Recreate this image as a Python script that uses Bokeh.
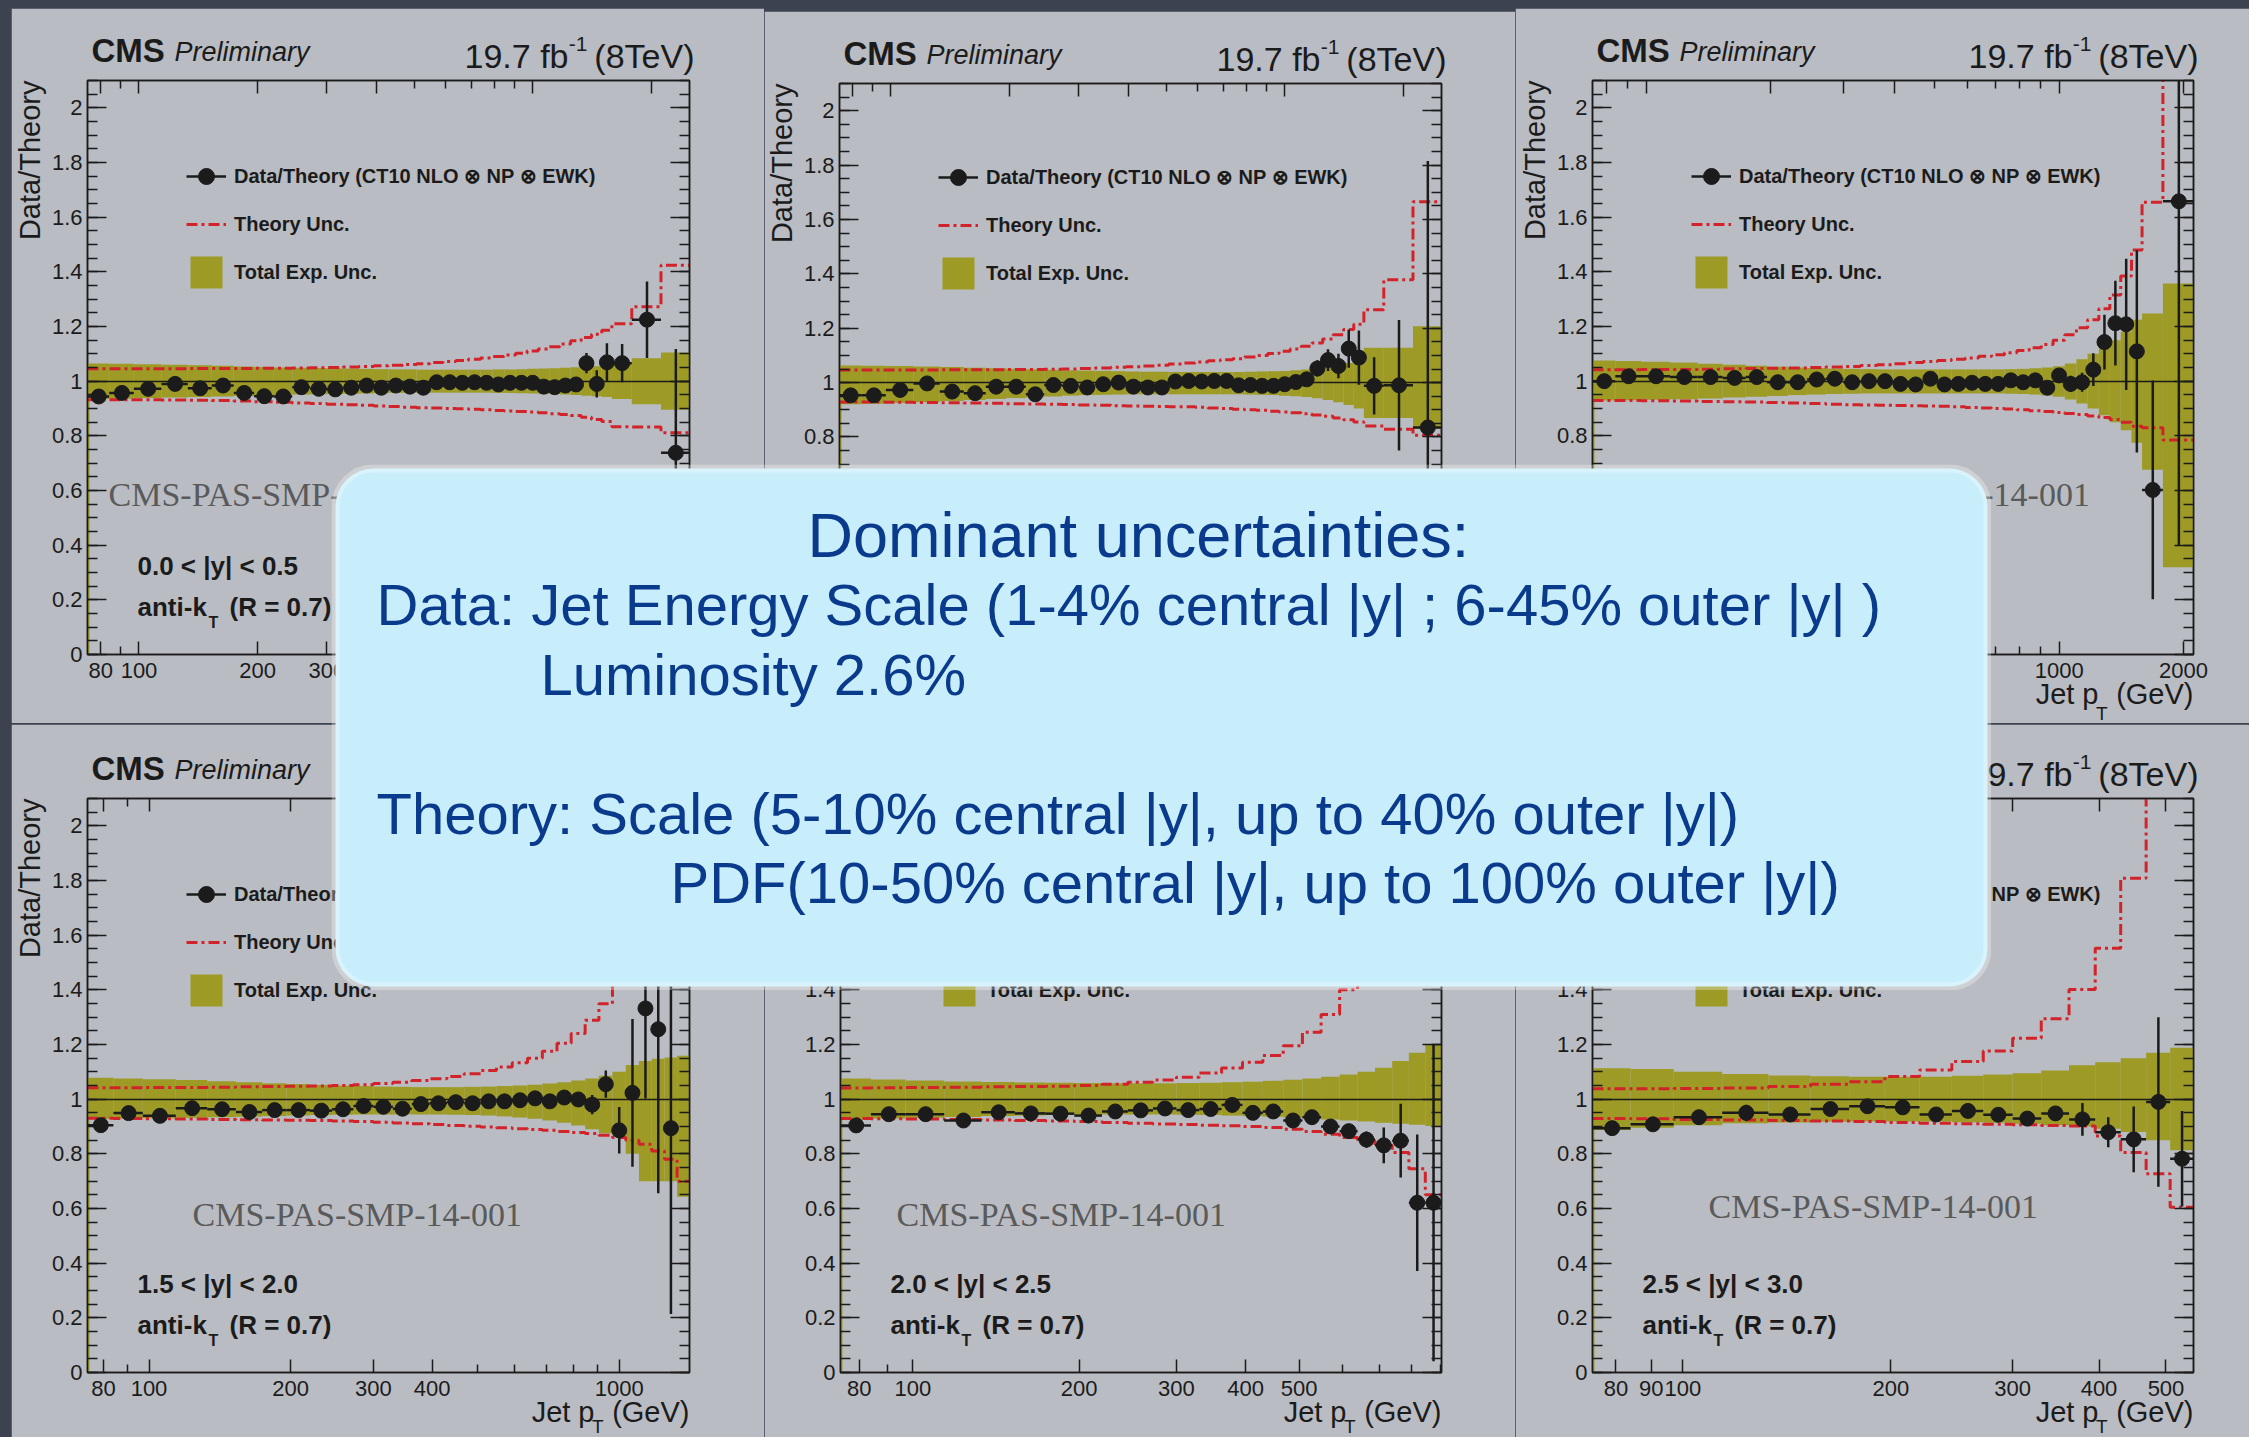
import math
from bokeh.plotting import figure
from bokeh.layouts import row, column
from bokeh.core.properties import value
from bokeh.models import (Range1d, LogAxis, LinearAxis, FixedTicker, PrintfTickFormatter,
                          ColumnDataSource, Label, Legend, LegendItem, BoxAnnotation)
from bokeh.embed import file_html
from bokeh.resources import INLINE

# ---------------------------------------------------------------- colours / fonts
SLATE = "#3c4250"
PANEL = "#b9bcc2"
INK = "#1b1b1b"
OLIVE = "#9d9b25"
RED = "#d2232a"
WATERMARK = "#5a5a5a"
BOX_FILL = "#c9eefb"
BOX_TEXT = "#0a3a8c"
SANS = "Liberation Sans"
SERIF = "Liberation Serif"
Y_MAX = 2.1
PAGE_W, PAGE_H = 2249, 1437
THEORY_DASH = "11 4 3 4"
# Label text sits this fraction of its font size below the anchor point,
# so anchors are raised by it to put the baseline where it belongs.
BASE_SHIFT = 0.375

# ---------------------------------------------------------------- jet pT bin edges (GeV)
edges_std = [74, 84, 97, 114, 133, 153, 174, 196, 220, 245, 272, 300, 330, 362, 395,
             430, 468, 507, 548, 592, 638, 686, 737, 790, 846, 905, 967, 1032, 1101,
             1172, 1248, 1327, 1410, 1497, 1588]

# ---------------------------------------------------------------- 0.0 < |y| < 0.5
edges_y0 = edges_std + [1784, 2116, 2500]
ratio_y0 = [0.944, 0.957, 0.972, 0.990, 0.974, 0.984, 0.957, 0.945, 0.944, 0.978,
            0.972, 0.970, 0.976, 0.984, 0.976, 0.984, 0.980, 0.976, 0.996, 0.996,
            0.994, 0.996, 0.994, 0.988, 0.994, 0.994, 0.994, 0.980, 0.978, 0.984,
            0.988, 1.066, 0.990, 1.069, 1.066, 1.225, 0.738]
stat_y0 = [0.003, 0.003, 0.003, 0.003, 0.003, 0.003, 0.003, 0.003, 0.003, 0.003,
           0.003, 0.003, 0.003, 0.003, 0.003, 0.004, 0.004, 0.004, 0.004, 0.005,
           0.005, 0.005, 0.006, 0.006, 0.007, 0.008, 0.009, 0.010, 0.012, 0.015,
           0.020, 0.037, 0.050, 0.070, 0.070, 0.140, 0.380]
exp_up_y0 = [0.065, 0.064, 0.062, 0.060, 0.058, 0.056, 0.054, 0.052, 0.050, 0.049,
             0.048, 0.047, 0.046, 0.045, 0.044, 0.043, 0.043, 0.042, 0.042, 0.042,
             0.042, 0.042, 0.042, 0.043, 0.043, 0.044, 0.045, 0.046, 0.047, 0.049,
             0.051, 0.053, 0.055, 0.058, 0.065, 0.084, 0.105]
exp_dn_y0 = [0.065, 0.064, 0.062, 0.060, 0.058, 0.056, 0.054, 0.052, 0.050, 0.049,
             0.048, 0.047, 0.046, 0.045, 0.044, 0.043, 0.043, 0.042, 0.042, 0.042,
             0.042, 0.042, 0.042, 0.043, 0.043, 0.044, 0.045, 0.046, 0.047, 0.049,
             0.051, 0.053, 0.055, 0.058, 0.065, 0.084, 0.105]
th_up_y0 = [0.045, 0.045, 0.045, 0.045, 0.046, 0.046, 0.046, 0.047, 0.047, 0.048,
            0.049, 0.050, 0.052, 0.054, 0.056, 0.058, 0.061, 0.064, 0.068, 0.072,
            0.076, 0.080, 0.085, 0.090, 0.096, 0.102, 0.110, 0.118, 0.126, 0.136,
            0.148, 0.160, 0.172, 0.186, 0.210, 0.272, 0.424]
th_dn_y0 = [0.068, 0.068, 0.068, 0.069, 0.070, 0.071, 0.073, 0.075, 0.077, 0.080,
            0.082, 0.084, 0.086, 0.088, 0.091, 0.093, 0.095, 0.097, 0.098, 0.100,
            0.101, 0.103, 0.105, 0.107, 0.109, 0.111, 0.113, 0.116, 0.119, 0.122,
            0.126, 0.132, 0.140, 0.148, 0.167, 0.168, 0.189]

# ---------------------------------------------------------------- 0.5 < |y| < 1.0
edges_y1 = edges_std + [1784, 2116, 2500]
ratio_y1 = [0.953, 0.953, 0.973, 0.997, 0.967, 0.961, 0.985, 0.985, 0.957, 0.991,
            0.988, 0.982, 0.994, 1.000, 0.985, 0.982, 0.982, 1.004, 1.006, 1.004,
            1.006, 1.006, 0.990, 0.991, 0.988, 0.988, 0.994, 1.002, 1.012, 1.052,
            1.083, 1.061, 1.125, 1.092, 0.988, 0.990, 0.835]
stat_y1 = [0.003, 0.003, 0.003, 0.003, 0.003, 0.003, 0.003, 0.003, 0.003, 0.003,
           0.003, 0.003, 0.004, 0.004, 0.004, 0.004, 0.004, 0.004, 0.005, 0.005,
           0.005, 0.005, 0.006, 0.007, 0.008, 0.009, 0.010, 0.012, 0.015, 0.030,
           0.040, 0.045, 0.070, 0.100, 0.105, 0.240, 0.980]
exp_up_y1 = [0.063, 0.062, 0.061, 0.059, 0.057, 0.055, 0.053, 0.051, 0.049, 0.047,
             0.045, 0.044, 0.043, 0.042, 0.041, 0.040, 0.040, 0.039, 0.039, 0.039,
             0.039, 0.039, 0.039, 0.040, 0.041, 0.042, 0.043, 0.045, 0.048, 0.052,
             0.057, 0.064, 0.072, 0.085, 0.128, 0.128, 0.207]
exp_dn_y1 = [0.080, 0.078, 0.075, 0.072, 0.068, 0.064, 0.060, 0.057, 0.054, 0.051,
             0.048, 0.046, 0.045, 0.044, 0.043, 0.043, 0.043, 0.043, 0.043, 0.043,
             0.043, 0.043, 0.043, 0.044, 0.045, 0.046, 0.048, 0.050, 0.053, 0.058,
             0.064, 0.072, 0.082, 0.095, 0.130, 0.130, 0.171]
th_up_y1 = [0.046, 0.046, 0.046, 0.046, 0.047, 0.047, 0.047, 0.048, 0.048, 0.049,
            0.050, 0.052, 0.054, 0.056, 0.058, 0.061, 0.064, 0.068, 0.072, 0.076,
            0.080, 0.084, 0.088, 0.094, 0.100, 0.107, 0.115, 0.124, 0.134, 0.146,
            0.160, 0.176, 0.195, 0.215, 0.268, 0.378, 0.665]
th_dn_y1 = [0.071, 0.071, 0.072, 0.073, 0.074, 0.075, 0.076, 0.078, 0.079, 0.080,
            0.081, 0.082, 0.083, 0.085, 0.086, 0.087, 0.088, 0.089, 0.089, 0.091,
            0.093, 0.095, 0.098, 0.100, 0.102, 0.105, 0.108, 0.111, 0.115, 0.119,
            0.124, 0.130, 0.137, 0.145, 0.160, 0.172, 0.194]

# ---------------------------------------------------------------- 1.0 < |y| < 1.5
edges_y2 = edges_std + [1784, 2116]
ratio_y2 = [1.000, 1.018, 1.018, 1.015, 1.015, 1.012, 1.015, 0.996, 0.996, 1.006,
            1.009, 0.996, 1.000, 1.000, 0.990, 0.988, 1.009, 0.988, 0.990, 0.994,
            0.990, 0.990, 1.003, 0.996, 1.003, 0.976, 1.021, 0.990, 0.996, 1.042,
            1.143, 1.212, 1.208, 1.109, 0.602, 1.658]
stat_y2 = [0.003, 0.003, 0.003, 0.003, 0.003, 0.003, 0.003, 0.003, 0.003, 0.003,
           0.003, 0.003, 0.003, 0.003, 0.004, 0.004, 0.004, 0.004, 0.004, 0.005,
           0.006, 0.007, 0.008, 0.010, 0.012, 0.020, 0.025, 0.030, 0.035, 0.060,
           0.100, 0.155, 0.240, 0.370, 0.400, 1.260]
exp_up_y2 = [0.076, 0.074, 0.071, 0.068, 0.064, 0.060, 0.056, 0.053, 0.050, 0.048,
             0.046, 0.045, 0.044, 0.043, 0.043, 0.043, 0.043, 0.043, 0.043, 0.043,
             0.043, 0.043, 0.044, 0.045, 0.047, 0.050, 0.055, 0.065, 0.080, 0.100,
             0.125, 0.150, 0.180, 0.225, 0.248, 0.357]
exp_dn_y2 = [0.071, 0.070, 0.068, 0.066, 0.063, 0.060, 0.057, 0.054, 0.051, 0.049,
             0.047, 0.046, 0.045, 0.045, 0.045, 0.045, 0.045, 0.045, 0.045, 0.045,
             0.045, 0.045, 0.046, 0.047, 0.049, 0.052, 0.057, 0.067, 0.082, 0.100,
             0.125, 0.150, 0.180, 0.225, 0.324, 0.681]
th_up_y2 = [0.042, 0.042, 0.043, 0.043, 0.044, 0.045, 0.046, 0.047, 0.048, 0.050,
            0.052, 0.054, 0.057, 0.060, 0.064, 0.068, 0.072, 0.076, 0.080, 0.085,
            0.091, 0.097, 0.104, 0.112, 0.122, 0.134, 0.150, 0.170, 0.195, 0.225,
            0.265, 0.315, 0.385, 0.480, 0.655, 1.350]
th_dn_y2 = [0.071, 0.071, 0.072, 0.073, 0.074, 0.075, 0.076, 0.078, 0.080, 0.082,
            0.084, 0.086, 0.087, 0.088, 0.089, 0.090, 0.091, 0.092, 0.094, 0.096,
            0.098, 0.100, 0.102, 0.105, 0.108, 0.111, 0.115, 0.118, 0.122, 0.127,
            0.133, 0.140, 0.150, 0.165, 0.170, 0.215]

# ---------------------------------------------------------------- 1.5 < |y| < 2.0
edges_y3 = edges_std[:33]
ratio_y3 = [0.905, 0.949, 0.939, 0.967, 0.963, 0.953, 0.960, 0.960, 0.958, 0.963,
            0.975, 0.972, 0.965, 0.982, 0.985, 0.989, 0.985, 0.992, 0.992, 0.996,
            1.003, 0.992, 1.006, 0.999, 0.980, 1.055, 0.886, 1.023, 1.332, 1.256,
            0.894]
stat_y3 = [0.003, 0.003, 0.003, 0.003, 0.003, 0.003, 0.003, 0.003, 0.003, 0.003,
           0.004, 0.004, 0.004, 0.004, 0.004, 0.004, 0.005, 0.006, 0.007, 0.008,
           0.010, 0.013, 0.017, 0.024, 0.035, 0.050, 0.085, 0.270, 0.330, 0.600,
           0.680]
exp_up_y3 = [0.078, 0.076, 0.073, 0.070, 0.066, 0.062, 0.058, 0.055, 0.052, 0.050,
             0.048, 0.046, 0.045, 0.044, 0.044, 0.044, 0.045, 0.046, 0.048, 0.050,
             0.053, 0.057, 0.062, 0.068, 0.076, 0.086, 0.100, 0.125, 0.140, 0.148,
             0.152, 0.159]
exp_dn_y3 = [0.073, 0.072, 0.070, 0.068, 0.066, 0.064, 0.062, 0.060, 0.058, 0.057,
             0.056, 0.056, 0.056, 0.056, 0.056, 0.057, 0.058, 0.060, 0.063, 0.067,
             0.072, 0.078, 0.086, 0.096, 0.110, 0.125, 0.135, 0.200, 0.300, 0.300,
             0.300, 0.357]
th_up_y3 = [0.042, 0.042, 0.043, 0.043, 0.044, 0.045, 0.046, 0.047, 0.048, 0.050,
            0.053, 0.057, 0.062, 0.068, 0.075, 0.083, 0.093, 0.105, 0.118, 0.133,
            0.150, 0.175, 0.205, 0.240, 0.289, 0.349, 0.420, 0.500, 0.600, 0.720,
            0.880, 1.100]
th_dn_y3 = [0.070, 0.071, 0.072, 0.073, 0.074, 0.075, 0.076, 0.077, 0.078, 0.080,
            0.082, 0.084, 0.087, 0.090, 0.093, 0.096, 0.099, 0.102, 0.105, 0.108,
            0.111, 0.114, 0.118, 0.122, 0.126, 0.132, 0.140, 0.150, 0.165, 0.190,
            0.220, 0.300]

# ---------------------------------------------------------------- 2.0 < |y| < 2.5
edges_y4 = edges_std[:26]
ratio_y4 = [0.904, 0.945, 0.945, 0.922, 0.952, 0.948, 0.947, 0.940, 0.955, 0.959,
            0.966, 0.960, 0.964, 0.979, 0.950, 0.955, 0.922, 0.934, 0.900, 0.883,
            0.852, 0.831, 0.848, 0.621, 0.621]
stat_y4 = [0.004, 0.004, 0.004, 0.004, 0.004, 0.004, 0.004, 0.004, 0.005, 0.005,
           0.005, 0.005, 0.006, 0.007, 0.008, 0.009, 0.010, 0.012, 0.015, 0.020,
           0.030, 0.065, 0.135, 0.250, 0.580]
exp_up_y4 = [0.076, 0.072, 0.068, 0.065, 0.063, 0.061, 0.060, 0.059, 0.058, 0.058,
             0.058, 0.059, 0.060, 0.062, 0.064, 0.067, 0.071, 0.076, 0.082, 0.090,
             0.100, 0.115, 0.140, 0.170, 0.198]
exp_dn_y4 = [0.074, 0.071, 0.068, 0.065, 0.062, 0.060, 0.058, 0.057, 0.056, 0.056,
             0.056, 0.057, 0.058, 0.060, 0.062, 0.064, 0.067, 0.070, 0.074, 0.078,
             0.082, 0.086, 0.090, 0.094, 0.098]
th_up_y4 = [0.041, 0.042, 0.043, 0.044, 0.045, 0.046, 0.047, 0.050, 0.055, 0.062,
            0.070, 0.080, 0.096, 0.114, 0.135, 0.160, 0.195, 0.245, 0.310, 0.400,
            0.500, 0.650, 0.850, 1.100, 1.400]
th_dn_y4 = [0.071, 0.072, 0.073, 0.074, 0.076, 0.078, 0.080, 0.082, 0.085, 0.088,
            0.091, 0.093, 0.095, 0.097, 0.100, 0.104, 0.110, 0.118, 0.128, 0.140,
            0.152, 0.169, 0.195, 0.255, 0.350]

# ---------------------------------------------------------------- 2.5 < |y| < 3.0
edges_y5 = edges_std[:19]
ratio_y5 = [0.894, 0.908, 0.934, 0.950, 0.944, 0.964, 0.974, 0.970, 0.944, 0.957,
            0.943, 0.929, 0.948, 0.926, 0.879, 0.853, 0.990, 0.782]
stat_y5 = [0.008, 0.008, 0.010, 0.030, 0.012, 0.012, 0.020, 0.018, 0.015, 0.015,
           0.015, 0.018, 0.020, 0.060, 0.055, 0.120, 0.310, 0.175]
exp_up_y5 = [0.113, 0.110, 0.100, 0.092, 0.087, 0.084, 0.082, 0.082, 0.082, 0.086,
             0.090, 0.095, 0.105, 0.124, 0.135, 0.150, 0.170, 0.188]
exp_dn_y5 = [0.113, 0.105, 0.095, 0.088, 0.085, 0.083, 0.082, 0.082, 0.082, 0.084,
             0.086, 0.090, 0.095, 0.100, 0.108, 0.120, 0.150, 0.187]
th_up_y5 = [0.038, 0.038, 0.039, 0.041, 0.046, 0.055, 0.064, 0.083, 0.107, 0.138,
            0.176, 0.223, 0.294, 0.401, 0.552, 0.808, 1.300, 1.500]
th_dn_y5 = [0.071, 0.072, 0.074, 0.076, 0.078, 0.080, 0.082, 0.085, 0.088, 0.090,
            0.092, 0.094, 0.096, 0.098, 0.135, 0.195, 0.273, 0.395]

# ---------------------------------------------------------------- axis tick labels
xlabels_wide = [80, 100, 200, 300, 400, 1000, 2000]
xlabels_y3 = [80, 100, 200, 300, 400, 1000]
xlabels_y4 = [80, 100, 200, 300, 400, 500]
xlabels_y5 = [80, 90, 100, 200, 300, 400, 500]
y_major = [0, 0.2, 0.4, 0.6, 0.8, 1.0, 1.2, 1.4, 1.6, 1.8, 2.0]
y_minor = [round(0.05 * i, 2) for i in range(43)]

rapidity_text = ["0.0 < |y| < 0.5", "0.5 < |y| < 1.0", "1.0 < |y| < 1.5",
                 "1.5 < |y| < 2.0", "2.0 < |y| < 2.5", "2.5 < |y| < 3.0"]

box_lines = [
    ("Dominant uncertainties:", 63),
    ("Data: Jet Energy Scale (1-4% central |y| ; 6-45% outer |y| )", 58),
    ("Luminosity 2.6%", 58),
    ("Theory: Scale (5-10% central |y|, up to 40% outer |y|)", 58),
    ("PDF(10-50% central |y|, up to 100% outer |y|)", 58),
]

# page layout of the six panels: top-left corner, size, frame borders (l, r, t, b)
panel_origin = [(11, 8), (764, 11), (1515, 8), (11, 724), (764, 724), (1515, 724)]
panel_size = [(753, 715), (751, 712), (734, 715), (753, 713), (751, 713), (734, 713)]
panel_border = [(76, 75, 72, 69), (75, 74, 72, 67), (77, 56, 72, 69),
                (76, 75, 74, 65), (76, 74, 74, 65), (77, 56, 74, 65)]
panel_margin = [(8, 0, 0, 11), (11, 0, 0, 0), (8, 0, 0, 0),
                (1, 0, 0, 11), (1, 0, 0, 0), (1, 0, 0, 0)]
watermark_pos = [(21, 0.538), (55, 0.538), (168, 0.538),
                 (105, 0.531), (56, 0.531), (116, 0.562)]


def style_axis(ax, show_labels, major_len, minor_len):
    ax.axis_line_color = INK
    ax.axis_line_width = 1.5
    ax.major_tick_line_color = INK
    ax.minor_tick_line_color = INK
    ax.major_tick_line_width = 1.5
    ax.minor_tick_line_width = 1.5
    ax.major_tick_in = major_len
    ax.major_tick_out = 0
    ax.minor_tick_in = minor_len
    ax.minor_tick_out = 0
    ax.major_label_text_font = SANS
    ax.formatter = PrintfTickFormatter(format="%g")
    if show_labels:
        ax.major_label_text_font_size = "22px"
        ax.major_label_text_color = INK
    else:
        # mirrored frame side: ticks only
        ax.major_label_text_font_size = "10px"
        ax.major_label_text_color = None
        ax.major_label_standoff = 0


def make_panel(edges, ratio, stat, exp_up, exp_dn, th_up, th_dn, xlabels, rap,
               wm, size, borders, margin):
    x0, x1 = edges[0], edges[-1]
    W, H = size
    bl, br, bt, bb = borders
    fw, fh = W - bl - br, H - bt - bb
    decade = fw / math.log10(x1 / x0)
    unit = fh / Y_MAX

    def X(dx):
        return x0 * 10 ** (dx / decade)

    p = figure(width=W, height=H, x_axis_type="log",
               x_range=Range1d(x0, x1), y_range=Range1d(0, Y_MAX),
               output_backend="svg", toolbar_location=None,
               min_border_left=bl, min_border_right=br,
               min_border_top=bt, min_border_bottom=bb, margin=margin)
    p.background_fill_color = PANEL
    p.border_fill_color = PANEL
    p.outline_line_color = INK
    p.outline_line_width = 1.5
    p.xgrid.visible = False
    p.ygrid.visible = False

    every = [m * 10 ** k for k in (1, 2, 3) for m in range(1, 10)]
    minor = [t for t in every if x0 <= t <= x1 and t not in xlabels]

    bottom = p.xaxis[0]
    bottom.ticker = FixedTicker(ticks=xlabels, minor_ticks=minor)
    style_axis(bottom, True, 13, 8)
    bottom.major_label_standoff = 8
    top = LogAxis(ticker=FixedTicker(ticks=xlabels, minor_ticks=minor))
    style_axis(top, False, 13, 8)
    p.add_layout(top, "above")

    left = p.yaxis[0]
    left.ticker = FixedTicker(ticks=y_major, minor_ticks=y_minor)
    style_axis(left, True, 19, 10)
    left.major_label_standoff = 5
    right = LinearAxis(ticker=FixedTicker(ticks=y_major, minor_ticks=y_minor))
    style_axis(right, False, 19, 10)
    p.add_layout(right, "right")

    lo, hi = edges[:-1], edges[1:]

    # total experimental uncertainty band
    band = ColumnDataSource(dict(left=lo, right=hi,
                                 bottom=[1 - d for d in exp_dn],
                                 top=[1 + u for u in exp_up]))
    r_band = p.quad(left="left", right="right", bottom="bottom", top="top",
                    source=band, fill_color=OLIVE, line_color=None)
    p.segment(x0=[x0], x1=[x0], y0=[0], y1=[1 - exp_dn[0]],
              line_color=OLIVE, line_width=4)

    # theory uncertainty envelope
    th_hi = [1 + u for u in th_up]
    th_lo = [1 - d for d in th_dn]
    r_thu = p.step(x=list(edges), y=th_hi + [th_hi[-1]], mode="after",
                   line_color=RED, line_width=3, line_dash=THEORY_DASH)
    p.step(x=list(edges), y=th_lo + [th_lo[-1]], mode="after",
           line_color=RED, line_width=3, line_dash=THEORY_DASH)

    p.hspan(y=[1.0], line_color=INK, line_width=1.5)

    # data / theory points
    n = len(ratio)
    pts = ColumnDataSource(dict(
        x=[(a + b) / 2 for a, b in zip(lo[:n], hi[:n])],
        lo=lo[:n], hi=hi[:n], y=ratio,
        ylo=[r - e for r, e in zip(ratio, stat)],
        yhi=[r + e for r, e in zip(ratio, stat)]))
    r_h = p.segment(x0="lo", x1="hi", y0="y", y1="y", source=pts,
                    line_color=INK, line_width=2.5)
    p.segment(x0="x", x1="x", y0="ylo", y1="yhi", source=pts,
              line_color=INK, line_width=2.5)
    r_p = p.scatter(x="x", y="y", source=pts, size=15,
                    fill_color=INK, line_color=INK)

    legend = Legend(items=[
        LegendItem(label=value("Data/Theory (CT10 NLO \u2297 NP \u2297 EWK)"), renderers=[r_h, r_p]),
        LegendItem(label=value("Theory Unc."), renderers=[r_thu]),
        LegendItem(label=value("Total Exp. Unc."), renderers=[r_band]),
    ], location=(99, fh - 212), glyph_width=40, glyph_height=40, spacing=8,
        padding=0, margin=0, label_standoff=8, border_line_color=None,
        background_fill_alpha=0, label_text_font=SANS, label_text_font_style="bold",
        label_text_font_size="20px", label_text_color=INK)
    p.add_layout(legend)

    def lab(text, dx, yval, size, style="normal", font=SANS, color=INK):
        p.add_layout(Label(x=X(dx), y=yval + BASE_SHIFT * size / unit, text=text,
                           text_font=font, text_font_size=f"{size}px",
                           text_font_style=style, text_baseline="alphabetic",
                           text_color=color))

    lab(rap, 50, 0.288, 26, "bold")
    lab("anti-k", 50, 0.139, 26, "bold")
    lab("T", 121, 0.139 - 12 / unit, 16, "bold")
    lab("(R = 0.7)", 142, 0.139, 26, "bold")
    lab("CMS-PAS-SMP-14-001", wm[0], wm[1], 34, font=SERIF, color=WATERMARK)
    return p


series = [
    (edges_y0, ratio_y0, stat_y0, exp_up_y0, exp_dn_y0, th_up_y0, th_dn_y0, xlabels_wide),
    (edges_y1, ratio_y1, stat_y1, exp_up_y1, exp_dn_y1, th_up_y1, th_dn_y1, xlabels_wide),
    (edges_y2, ratio_y2, stat_y2, exp_up_y2, exp_dn_y2, th_up_y2, th_dn_y2, xlabels_wide),
    (edges_y3, ratio_y3, stat_y3, exp_up_y3, exp_dn_y3, th_up_y3, th_dn_y3, xlabels_y3),
    (edges_y4, ratio_y4, stat_y4, exp_up_y4, exp_dn_y4, th_up_y4, th_dn_y4, xlabels_y4),
    (edges_y5, ratio_y5, stat_y5, exp_up_y5, exp_dn_y5, th_up_y5, th_dn_y5, xlabels_y5),
]
panels = [make_panel(*s, rapidity_text[i], watermark_pos[i], panel_size[i],
                     panel_border[i], panel_margin[i])
          for i, s in enumerate(series)]

# ---------------------------------------------------------------- headers and axis titles
# (drawn on a transparent page-sized layer so they are not clipped by the frames)
overlay = figure(width=PAGE_W, height=PAGE_H, x_range=Range1d(0, PAGE_W),
                 y_range=Range1d(PAGE_H, 0), output_backend="svg",
                 toolbar_location=None, min_border=0, x_axis_location=None,
                 y_axis_location=None, margin=(-PAGE_H, 0, 0, 0))
overlay.xgrid.visible = False
overlay.ygrid.visible = False
overlay.outline_line_color = None
overlay.background_fill_alpha = 0
overlay.border_fill_alpha = 0


def page_text(fig, text, x, y, size, style="normal", align="left", angle=0.0,
              color=INK):
    if angle:
        x -= BASE_SHIFT * size
    else:
        y -= BASE_SHIFT * size
    fig.add_layout(Label(x=x, y=y, text=text, text_font=SANS, text_font_size=f"{size}px",
                         text_font_style=style, text_align=align,
                         text_baseline="alphabetic", text_color=color, angle=angle))


for i in range(6):
    ox, oy = panel_origin[i]
    W, H = panel_size[i]
    bl, br, bt, bb = panel_border[i]
    FL, FR, FT, FB = ox + bl, ox + W - br, oy + bt, oy + H - bb
    sub_drop = 66 if i < 3 else 61
    page_text(overlay, "CMS", FL + 4, FT - 18, 33, "bold")
    page_text(overlay, "Preliminary", FL + 87, FT - 18, 27, "italic")
    page_text(overlay, "19.7 fb", FR - 121, FT - 12, 34, align="right")
    page_text(overlay, "-1", FR - 102, FT - 29, 21, align="right")
    page_text(overlay, "(8TeV)", FR + 5, FT - 12, 34, align="right")
    page_text(overlay, "Data/Theory", FL - 47, FT, 29, align="right", angle=math.pi / 2)
    page_text(overlay, "Jet p", FR - 95, FB + 50, 29, align="right")
    page_text(overlay, "T", FR - 86, FB + sub_drop, 19, align="right")
    page_text(overlay, "(GeV)", FR, FB + 50, 29, align="right")

# ---------------------------------------------------------------- summary box
BW, BH = 1660, 526
box = figure(width=BW, height=BH, x_range=Range1d(0, BW), y_range=Range1d(BH, 0),
             output_backend="svg", toolbar_location=None, min_border=0,
             x_axis_location=None, y_axis_location=None, margin=(-973, 0, 0, 331))
box.xgrid.visible = False
box.ygrid.visible = False
box.outline_line_color = None
box.background_fill_alpha = 0
box.border_fill_alpha = 0
box.add_layout(BoxAnnotation(left=4, right=BW - 4, top=4, bottom=BH - 4,
                             fill_color=BOX_FILL, fill_alpha=1.0,
                             line_color="white", line_width=8, border_radius=38))
box_pos = [(476, 94), (45, 162), (209, 232), (45, 371), (339, 440)]
for (text, fsize), (bx, by) in zip(box_lines, box_pos):
    page_text(box, text, bx, by, fsize, color=BOX_TEXT)

root = column(row(*panels[:3]), row(*panels[3:]), overlay, box,
              width=PAGE_W, height=PAGE_H, styles={"background-color": SLATE})

open("out.html", "w").write(file_html(root, INLINE, "Inclusive jets: data/theory"))
